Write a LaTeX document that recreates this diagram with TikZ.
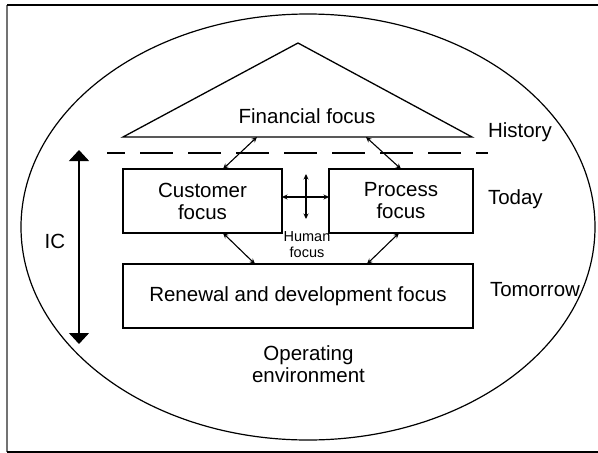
\documentclass[tikz,border=0pt]{standalone}
\usepackage{fontspec}
\setmainfont{Liberation Sans}
\usetikzlibrary{arrows.meta}
\begin{document}
\begin{tikzpicture}[x=1pt,y=-1pt,
  every node/.style={inner sep=0pt, outer sep=0pt},
  bigtext/.style={font=\fontsize{20.5}{22}\selectfont, align=center},
  smalltext/.style={font=\fontsize{14.5}{16.5}\selectfont, align=center},
  focusbox/.style={draw, line width=1.3pt, minimum height=64pt, bigtext},
  outline/.style={line width=1.3pt},
  link/.style={line width=1.1pt, {Stealth[length=5.5pt,width=5pt]}-{Stealth[length=5.5pt,width=5pt]}},
  span/.style={line width=1.3pt, {Triangle[length=11pt,width=20pt]}-{Triangle[length=11pt,width=20pt]}}
]
\useasboundingbox (0,0) rectangle (598,453);

% page frame (open on the right)
\draw[line width=2pt, black!55] (7,5) -- (7,452);
\draw[line width=2pt] (598,5) -- (7,5);
\draw[line width=1.5pt] (7,452) -- (598,452);

% operating environment
\draw[line width=1.2pt] (308,227) ellipse [x radius=287, y radius=213];
\node[bigtext, anchor=south] (env) at (308.5,383) {Operating\\environment};

% roof: financial focus
\coordinate (apex) at (298,43);
\coordinate (roofL) at (123,137);
\coordinate (roofR) at (472,137);
\draw[outline, line join=miter] (roofL) -- (apex) -- (roofR) -- cycle;
\node[bigtext, anchor=base] (fin) at (307,123) {Financial focus};
\coordinate (finL) at (257,137);
\coordinate (finR) at (366,137);

% history line
\coordinate (dashL) at (107,153);
\coordinate (dashR) at (488,153);
\draw[line width=1.3pt, dash pattern=on 33pt off 15pt, dash phase=15pt] (dashL) -- (dashR);

% focus boxes
\node[focusbox, minimum width=159pt] (cust) at (202.5,201) {Customer\\focus};
\node[focusbox, minimum width=144pt] (proc) at (401,201) {Process\\focus};
\node[focusbox, minimum width=350pt] (renew) at (298,296) {Renewal and development focus};

% human focus in the middle
\node[smalltext, anchor=south] (human) at (307,258) {Human\\focus};
\coordinate (hTop) at (306,174);
\coordinate (hBot) at (306,219);
\draw[link] ([yshift=4pt]cust.east) -- ([yshift=4pt]proc.west);
\draw[link] (hTop) -- (hBot);

% links between the perspectives
\draw[link] (finL) -- ([xshift=20.5pt]cust.north);
\draw[link] (finR) -- (proc.north);
\draw[link] ([xshift=20.5pt]cust.south) -- ([xshift=-43pt]renew.north);
\draw[link] ([xshift=-2pt]proc.south) -- ([xshift=69pt]renew.north);

% time labels
\node[bigtext, anchor=base west] (hist) at (488,137) {History};
\node[bigtext, anchor=base west] (today) at (488,204) {Today};
\node[bigtext, anchor=base west] (tomorrow) at (490,296) {Tomorrow};

% intellectual capital span
\coordinate (icTop) at (79,150);
\coordinate (icBot) at (79,344);
\draw[span] (icTop) -- (icBot);
\node[bigtext, anchor=base] (ic) at (55,248) {IC};
\end{tikzpicture}
\end{document}
